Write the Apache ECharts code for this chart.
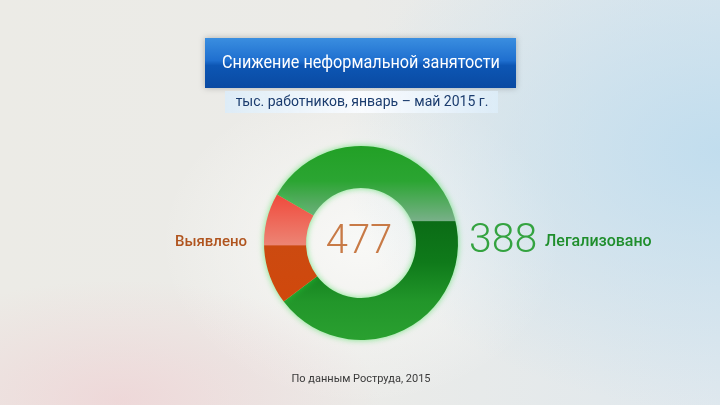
<!DOCTYPE html>
<html><head><meta charset="utf-8">
<script src="https://cdn.jsdelivr.net/npm/echarts@6/dist/echarts.min.js"></script>
<style>
html,body{margin:0;padding:0;}
#c{width:720px;height:405px;
background:
 radial-gradient(ellipse 260px 120px at 120px 400px, rgba(240,200,205,0.55), rgba(240,200,205,0) 100%),
 radial-gradient(ellipse 380px 260px at 720px 150px, rgba(190,220,238,0.9), rgba(200,225,240,0) 100%),
 radial-gradient(ellipse 200px 160px at 361px 243px, rgba(250,250,248,0.9), rgba(250,250,248,0) 100%),
 linear-gradient(90deg,#ecebe6 0%,#ebebe8 50%,#dfe8ee 100%);}
</style></head>
<body><div id="c"></div>
<script>
var titleText = 'Снижение неформальной занятости';
var subtitleText = 'тыс. работников, январь – май 2015 г.';
var sourceText = 'По данным Роструда, 2015';
var categories = ['Легализовано', 'Не легализовано'];
var sliceValues = [388, 89];
var detectedLabel = 'Выявлено';
var detectedTotal = 477;
var legalizedLabel = 'Легализовано';
var legalizedTotal = 388;

var chart = echarts.init(document.getElementById('c'), null, {renderer:'canvas'});
var greenFill = new echarts.graphic.LinearGradient(0,0,0,1,[
  {offset:0,color:'#22a026'},
  {offset:0.18,color:'#2ba532'},
  {offset:0.385,color:'#78b088'},
  {offset:0.39,color:'#0b6c16'},
  {offset:0.6,color:'#0f7a1a'},
  {offset:0.8,color:'#22962a'},
  {offset:1,color:'#2aa030'}]);
var redFill = new echarts.graphic.LinearGradient(0,0,0,1,[
  {offset:0,color:'#f04a3c'},
  {offset:0.47,color:'#ec8474'},
  {offset:0.48,color:'#cc4a10'},
  {offset:1,color:'#d0480c'}]);
var fills = [greenFill, redFill];

chart.setOption({
  animation:false,
  series:[{
    type:'pie',
    center:[361,243],
    radius:[55,97],
    startAngle:150,
    clockwise:true,
    label:{show:false},
    labelLine:{show:false},
    emphasis:{disabled:true},
    itemStyle:{shadowBlur:6,shadowColor:'rgba(40,220,60,0.6)'},
    data:categories.map(function(n,i){return {name:n,value:sliceValues[i],itemStyle:{color:fills[i]}};})
  }],
  graphic:[
    {type:'rect',shape:{x:205,y:38,width:311,height:50},
     style:{fill:new echarts.graphic.LinearGradient(0,0,0,1,[
       {offset:0,color:'#3a8ee0'},{offset:0.45,color:'#1f6fcf'},{offset:0.55,color:'#0d56b4'},{offset:1,color:'#0a4aa2'}]),
       shadowBlur:6,shadowColor:'rgba(0,0,0,0.25)'}},
    {type:'text',x:361,y:63,scaleX:0.9,style:{text:titleText,fill:'#ffffff',font:'18px Roboto, "Open Sans", sans-serif',align:'center',verticalAlign:'middle'}},
    {type:'rect',shape:{x:225,y:91,width:273,height:22},
     style:{fill:new echarts.graphic.LinearGradient(0,0,1,0,[
       {offset:0,color:'rgba(220,236,248,0.9)'},{offset:0.5,color:'rgba(250,252,255,0.95)'},{offset:1,color:'rgba(220,236,248,0.9)'}])}},
    {type:'text',x:362,y:102,style:{text:subtitleText,fill:'#1b3c6e',font:'14px Roboto, "Open Sans", sans-serif',align:'center',verticalAlign:'middle'}},
    {type:'text',x:359,y:243,style:{text:String(detectedTotal),fill:'#c87a46',font:'300 40px Roboto, "Open Sans", sans-serif',align:'center',verticalAlign:'middle'}},
    {type:'text',x:247,y:242,style:{text:detectedLabel,fill:'#b0541e',font:'500 15px Roboto, "Open Sans", sans-serif',align:'right',verticalAlign:'middle'}},
    {type:'text',x:469,y:242,style:{text:String(legalizedTotal),fill:'#34a340',font:'300 41px Roboto, "Open Sans", sans-serif',align:'left',verticalAlign:'middle'}},
    {type:'text',x:545,y:242,style:{text:legalizedLabel,fill:'#1f8e2c',font:'500 16px Roboto, "Open Sans", sans-serif',align:'left',verticalAlign:'middle'}},
    {type:'text',x:361,y:379,style:{text:sourceText,fill:'#3a3a3a',font:'11px Roboto, "Open Sans", sans-serif',align:'center',verticalAlign:'middle'}}
  ]
});
</script></body></html>
